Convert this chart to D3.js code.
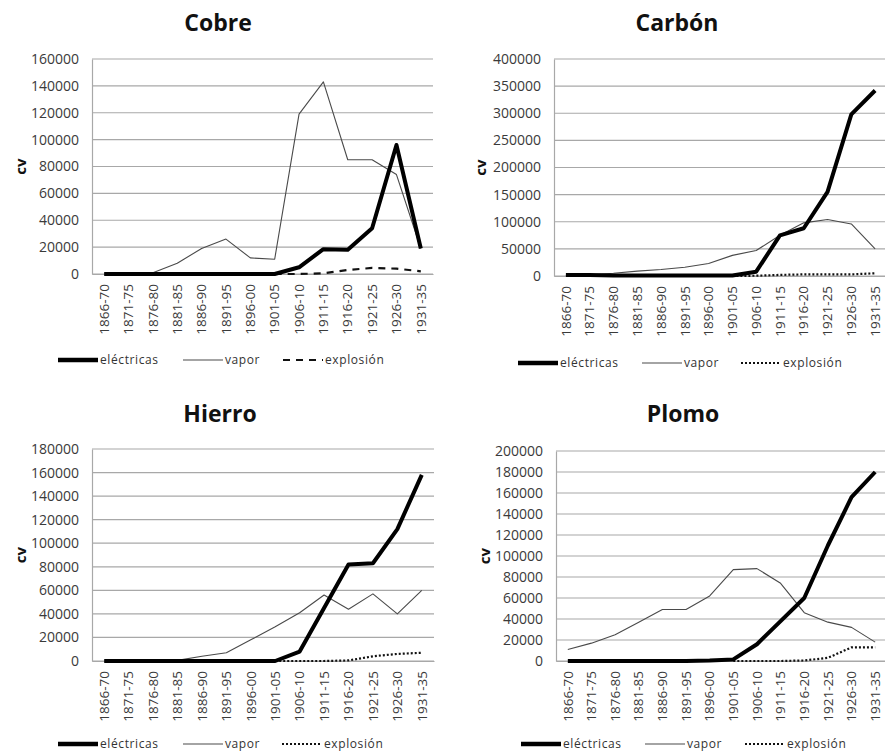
<!DOCTYPE html>
<html><head><meta charset="utf-8">
<script src="https://cdn.jsdelivr.net/npm/d3@7"></script>
<style>
body{margin:0;background:#fff;}
svg{display:block;font-family:"Open Sans",sans-serif;}
</style></head>
<body>
<svg id="c" width="885" height="753"></svg>
<script>
const categories = ["1866-70","1871-75","1876-80","1881-85","1886-90","1891-95","1896-00","1901-05","1906-10","1911-15","1916-20","1921-25","1926-30","1931-35"];
const seriesNames = ["eléctricas","vapor","explosión"];

const cobreElectricas = [0,0,0,0,0,0,0,0,5000,18500,18000,34000,96000,19000];
const cobreVapor      = [0,0,1000,8000,19000,26000,12000,11000,119000,143000,85000,85000,74000,19000];
const cobreExplosion  = [null,null,null,null,null,null,null,0,0,500,3000,4500,4000,2000];

const carbonElectricas = [2000,2000,1000,1000,1000,1000,1000,1000,8000,75000,88000,155000,298000,342000];
const carbonVapor      = [1000,2000,5000,9000,12000,16000,23000,38000,47000,75000,98000,104000,96000,50000];
const carbonExplosion  = [null,null,null,null,null,null,null,0,500,2000,3000,3000,3000,5000];

const hierroElectricas = [0,0,0,0,0,0,0,0,8000,45000,82000,83000,112000,158000];
const hierroVapor      = [0,0,0,500,4000,7000,18000,29000,41000,56000,44000,57000,40000,60000];
const hierroExplosion  = [null,null,null,null,null,null,null,0,0,0,500,4000,6000,7000];

const plomoElectricas = [0,0,0,0,0,0,500,1500,16000,38000,60000,110000,156000,180000];
const plomoVapor      = [11000,17000,25000,37000,49000,49000,62000,87000,88000,74000,46000,37000,32000,18000];
const plomoExplosion  = [null,null,null,null,null,null,null,0,0,0,500,3000,13000,13000];

const titles = ["Cobre","Carbón","Hierro","Plomo"];
const yMaxes = [160000,400000,180000,200000];
const ySteps = [20000,50000,20000,20000];

const panelData = [
  [cobreElectricas, cobreVapor, cobreExplosion],
  [carbonElectricas, carbonVapor, carbonExplosion],
  [hierroElectricas, hierroVapor, hierroExplosion],
  [plomoElectricas, plomoVapor, plomoExplosion]
];

// layout (positions only)
const layout = [
  {left:92,  right:433, top:59,  bottom:274, titleX:218, titleY:31,  cvX:21,  legY:360, leg:[58,183,283],  explDash:"7,6"},
  {left:554, right:887, top:59,  bottom:276, titleX:677, titleY:31,  cvX:481, legY:363, leg:[518,642,741], explDash:"2,2"},
  {left:92,  right:434, top:449, bottom:661, titleX:220, titleY:422, cvX:21,  legY:744, leg:[58,183,282],  explDash:"2,2"},
  {left:556, right:887, top:451, bottom:661, titleX:683, titleY:422, cvX:485, legY:744, leg:[521,645,745], explDash:"2,2"}
];

const svg = d3.select("#c");

panelData.forEach((series, i) => {
  const L = layout[i];
  const g = svg.append("g");
  const x = d3.scaleBand().domain(categories).range([L.left, L.right]);
  const y = d3.scaleLinear().domain([0, yMaxes[i]]).range([L.bottom, L.top]);
  const ticks = d3.range(0, yMaxes[i] + 1, ySteps[i]);

  // gridlines
  g.append("g").selectAll("line").data(ticks).join("line")
    .attr("x1", L.left).attr("x2", L.right)
    .attr("y1", d => y(d)).attr("y2", d => y(d))
    .attr("stroke", "#a8a8a8").attr("stroke-width", 1.2);

  // y axis
  const ya = g.append("g").attr("transform", `translate(${L.left},0)`)
    .call(d3.axisLeft(y).tickValues(ticks).tickSize(0).tickPadding(13).tickFormat(d3.format("d")));
  ya.select(".domain").attr("stroke", "#a8a8a8").attr("stroke-width", 1.2);
  ya.selectAll("text").attr("font-family", "Open Sans").attr("font-size", 14).attr("fill", "#3a3a3a");

  // x axis
  const xa = g.append("g").attr("transform", `translate(0,${L.bottom})`)
    .call(d3.axisBottom(x).tickSize(0).tickSizeOuter(0));
  xa.select(".domain").attr("stroke", "#a8a8a8").attr("stroke-width", 1.2);
  xa.selectAll("text")
    .attr("font-family", "Open Sans").attr("font-size", 13.5).attr("fill", "#3a3a3a")
    .attr("transform", "rotate(-90)")
    .attr("text-anchor", "end")
    .attr("x", -10).attr("y", 0).attr("dy", "0.35em");

  // title
  g.append("text").attr("x", L.titleX).attr("y", L.titleY)
    .attr("text-anchor", "middle").attr("font-size", 23).attr("font-weight", "bold")
    .attr("fill", "#111").text(titles[i]);

  // y label
  const cy = (L.top + L.bottom) / 2;
  g.append("text").attr("transform", `translate(${L.cvX},${cy}) rotate(-90)`)
    .attr("text-anchor", "middle").attr("dy", "0.35em")
    .attr("font-size", 15).attr("font-weight", "bold").attr("fill", "#111").text("cv");

  const styles = [
    {w: 4, c: "#000", dash: null},
    {w: 1.1, c: "#4a4a4a", dash: null},
    {w: 2.2, c: "#111", dash: L.explDash}
  ];

  const line = d3.line()
    .defined(d => d != null)
    .x((d, k) => x(categories[k]) + x.bandwidth() / 2)
    .y(d => y(d));

  // draw order: vapor, explosion, electric
  [1, 2, 0].forEach(s => {
    g.append("path").datum(series[s])
      .attr("d", line)
      .attr("fill", "none")
      .attr("stroke", styles[s].c)
      .attr("stroke-width", styles[s].w)
      .attr("stroke-linejoin", "round")
      .attr("stroke-dasharray", styles[s].dash);
  });

  // legend
  seriesNames.forEach((nm, s) => {
    const lx = L.leg[s];
    g.append("line").attr("x1", lx).attr("x2", lx + 40)
      .attr("y1", L.legY).attr("y2", L.legY)
      .attr("stroke", styles[s].c).attr("stroke-width", s === 0 ? 4.5 : styles[s].w)
      .attr("stroke-dasharray", styles[s].dash);
    g.append("text").attr("x", lx + 42).attr("y", L.legY).attr("dy", "0.35em")
      .attr("font-size", 12).attr("letter-spacing", 0.6).attr("fill", "#333").text(nm);
  });
});
</script>
</body></html>
